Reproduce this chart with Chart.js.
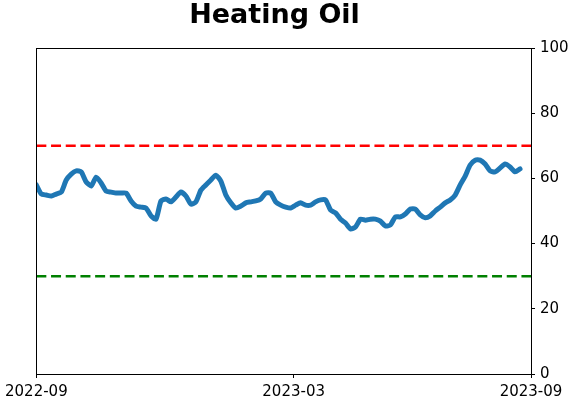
<!DOCTYPE html>
<html>
<head>
<meta charset="utf-8">
<script src="https://cdn.jsdelivr.net/npm/chart.js@4.4.0/dist/chart.umd.min.js"></script>
<style>
    html, body { margin: 0; padding: 0; background: #fff; }
    #wrap { width: 571px; height: 402px; position: relative; }
</style>
</head>
<body>
<div id="wrap"><canvas id="oilChart"></canvas></div>
<script>
    const titleText = 'Heating Oil';

    // indicator readings, sampled evenly from 2022-09 to 2023-09
    const oilValues = [
        58.0, 55.2, 54.9, 54.6, 55.2, 55.8, 59.5, 61.3, 62.3, 62.0,
        58.9, 57.7, 60.4, 58.6, 56.1, 55.8, 55.5, 55.5, 55.5, 53.1,
        51.5, 51.2, 50.9, 48.5, 47.5, 53.1, 53.7, 52.8, 54.3, 55.8,
        54.6, 52.1, 52.8, 56.4, 58.0, 59.5, 61.0, 59.2, 54.9, 52.5,
        50.9, 51.5, 52.5, 52.8, 53.1, 53.7, 55.5, 55.5, 52.8, 51.8,
        51.2, 50.9, 51.8, 52.5, 51.8, 51.8, 52.8, 53.4, 53.4, 50.3,
        49.4, 47.5, 46.3, 44.5, 45.1, 47.5, 47.2, 47.5, 47.5, 46.9,
        45.4, 45.7, 48.2, 48.2, 49.1, 50.6, 50.6, 48.8, 47.9, 48.5,
        50.0, 51.2, 52.5, 53.4, 54.9, 58.0, 60.7, 64.1, 65.6, 65.6,
        64.4, 62.3, 62.0, 63.2, 64.4, 63.5, 62.0, 62.9
    ];

    const upperLevel = 70;
    const lowerLevel = 30;

    const xTickLabels = ['2022-09', '2023-03', '2023-09'];
    const xTickIndex = [0, 51.6, 99.2];
    const yTicks = [0, 20, 40, 60, 80, 100];

    const xMax = xTickIndex[xTickIndex.length - 1];
    const tickFont = { family: 'DejaVu Sans', size: 15 };

    const framePlugin = {
        id: 'frame',
        afterDraw(chart) {
            const { ctx, chartArea: a } = chart;
            ctx.save();
            ctx.strokeStyle = '#000';
            ctx.lineWidth = 1;
            ctx.strokeRect(Math.round(a.left) + 0.5, Math.round(a.top) + 0.5,
                Math.round(a.right - a.left), Math.round(a.bottom - a.top));
            ctx.font = 'bold 27px "DejaVu Sans"';
            ctx.fillStyle = '#000';
            ctx.textAlign = 'center';
            ctx.textBaseline = 'alphabetic';
            ctx.fillText(titleText, 274.5, 23);
            ctx.restore();
        }
    };

    new Chart(document.getElementById('oilChart').getContext('2d'), {
        type: 'line',
        data: {
            datasets: [
                {
                    data: oilValues.map((v, i) => ({ x: i, y: v })),
                    borderColor: '#1f77b4',
                    borderWidth: 5,
                    pointRadius: 0,
                    tension: 0.2,
                    borderJoinStyle: 'round',
                    borderCapStyle: 'round',
                    clip: 0
                },
                {
                    data: [{ x: 0, y: upperLevel }, { x: xMax, y: upperLevel }],
                    borderColor: '#ff0000',
                    borderWidth: 2.5,
                    borderDash: [10, 4.7],
                    pointRadius: 0
                },
                {
                    data: [{ x: 0, y: lowerLevel }, { x: xMax, y: lowerLevel }],
                    borderColor: '#008000',
                    borderWidth: 2.5,
                    borderDash: [10, 4.7],
                    pointRadius: 0
                }
            ]
        },
        options: {
            responsive: true,
            maintainAspectRatio: false,
            animation: false,
            layout: { padding: { left: 35, top: 48, right: 0, bottom: 0 } },
            plugins: { legend: { display: false }, tooltip: { enabled: false } },
            scales: {
                x: {
                    type: 'linear',
                    min: 0,
                    max: xMax,
                    afterBuildTicks: (scale) => {
                        scale.ticks = xTickIndex.map((value) => ({ value }));
                    },
                    afterFit: (scale) => { scale.height = 28; },
                    grid: { drawOnChartArea: false, color: '#000', tickLength: 4 },
                    border: { color: '#000' },
                    ticks: {
                        color: '#000',
                        font: tickFont,
                        padding: 5,
                        maxRotation: 0,
                        autoSkip: false,
                        callback: (value) => xTickLabels[xTickIndex.indexOf(value)]
                    }
                },
                y: {
                    position: 'right',
                    min: 0,
                    max: 100,
                    afterBuildTicks: (scale) => {
                        scale.ticks = yTicks.map((value) => ({ value }));
                    },
                    afterFit: (scale) => { scale.width = 40; },
                    grid: { drawOnChartArea: false, color: '#000', tickLength: 4 },
                    border: { color: '#000' },
                    ticks: { color: '#000', font: tickFont, padding: 5 }
                }
            }
        },
        plugins: [framePlugin]
    });
</script>
</body>
</html>
